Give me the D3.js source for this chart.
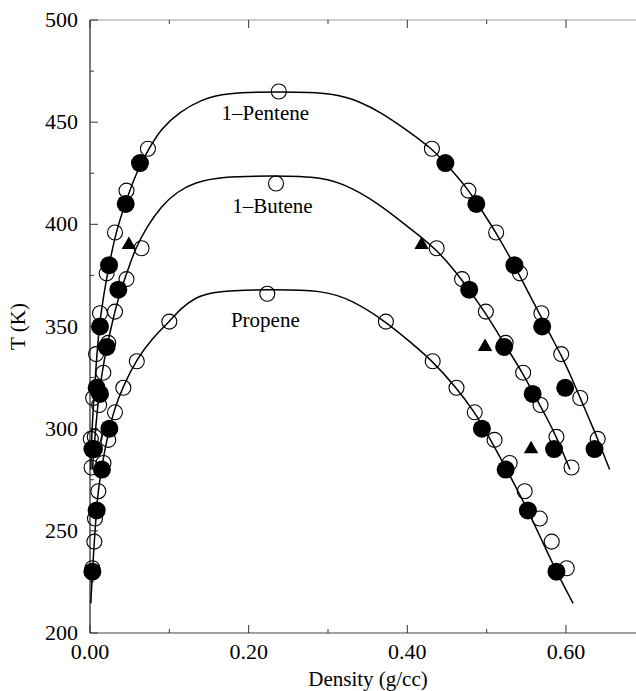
<!DOCTYPE html>
<html>
<head>
<meta charset="utf-8">
<script src="https://cdn.jsdelivr.net/npm/d3@7/dist/d3.min.js"></script>
<style>
  html, body { margin: 0; padding: 0; background: #fff; }
  svg { display: block; }
  text { font-family: "Liberation Serif", "Times New Roman", serif; fill: #000; }
</style>
</head>
<body>
<svg id="chart" width="636" height="691"></svg>
<script>
// ---- Axis ticks ----
const xTicksMajor = [0, 0.2, 0.4, 0.6];
const xTicksMinor = [0.1, 0.3, 0.5];
const xTickLabels = ["0.00", "0.20", "0.40", "0.60"];
const yTicksMajor = [200, 250, 300, 350, 400, 450, 500];
const yTicksMinor = [225, 275, 325, 375, 425, 475];
const yTickLabels = ["200", "250", "300", "350", "400", "450", "500"];

// ---- 1-Pentene ----
const pentFilledT      = [430, 410, 380, 350, 320, 290];
const pentFilledVapor  = [0.063, 0.045, 0.024, 0.0126, 0.0084, 0.003];
const pentFilledLiquid = [0.448, 0.487, 0.535, 0.570, 0.599, 0.636];
const pentOpenT        = [437, 416.5, 396, 376, 356.5, 336.5, 315, 295];
const pentOpenVapor    = [0.073, 0.046, 0.0315, 0.021, 0.0126, 0.0076, 0.004, 0.001];
const pentOpenLiquid   = [0.431, 0.477, 0.512, 0.542, 0.569, 0.594, 0.618, 0.640];
const pentCritical     = [0.238, 465];
const pentCurve = [[0.001,280],[0.002,295],[0.004,310],[0.0075,330],[0.0115,350],[0.017,365],
  [0.024,380],[0.0325,396],[0.045,411],[0.058,425],[0.074,437],[0.09,447],[0.113,455],[0.14,461],
  [0.17,464.3],[0.24,465],[0.31,464.3],[0.34,460],[0.366,455],[0.40,446],[0.431,437],[0.448,430],
  [0.477,417],[0.49,409],[0.512,396],[0.535,380],[0.552,367],[0.567,356],[0.58,346],[0.594,336],
  [0.607,325],[0.618,315],[0.63,304],[0.640,295],[0.655,280]];

// ---- 1-Butene ----
const buteFilledT      = [368, 340, 317, 290];
const buteFilledVapor  = [0.0357, 0.021, 0.0126, 0.005];
const buteFilledLiquid = [0.478, 0.522, 0.558, 0.585];
const buteOpenT        = [388.3, 373.2, 357.3, 342, 327.4, 311.6, 296, 281];
const buteOpenVapor    = [0.065, 0.046, 0.0315, 0.023, 0.0168, 0.0115, 0.006, 0.002];
const buteOpenLiquid   = [0.437, 0.469, 0.499, 0.524, 0.546, 0.568, 0.588, 0.607];
const buteCritical     = [0.2345, 420];
const buteTriangleDensity = [0.049, 0.418, 0.498, 0.556];
const buteTriangleT       = [390, 390, 340, 290];
const buteCurve = [[0.003,280],[0.005,290],[0.0075,302],[0.0105,314],[0.015,327],[0.021,340],
  [0.027,350],[0.033,360],[0.040,369],[0.048,378],[0.057,388],[0.072,399],[0.09,409],[0.11,416],
  [0.132,420.5],[0.164,423.3],[0.23,423.8],[0.294,423.3],[0.33,418],[0.366,409.5],[0.40,399],[0.437,388],
  [0.469,373],[0.50,356],[0.523,341],[0.546,327],[0.562,315],[0.575,306],[0.588,296],[0.605,280]];

// ---- Propene ----
const propFilledT      = [300, 280, 260, 230];
const propFilledVapor  = [0.0244, 0.015, 0.0084, 0.003];
const propFilledLiquid = [0.494, 0.524, 0.552, 0.588];
const propOpenT        = [352.4, 333, 320, 308, 294.5, 283.2, 269.4, 256, 244.7, 231.7];
const propOpenVapor    = [0.1, 0.059, 0.042, 0.0315, 0.023, 0.017, 0.0105, 0.0063, 0.0055, 0.003];
const propOpenLiquid   = [0.373, 0.432, 0.462, 0.485, 0.51, 0.529, 0.548, 0.567, 0.582, 0.601];
const propCritical     = [0.2235, 366];
const propCurve = [[0.001,214.5],[0.003,230],[0.0055,245],[0.008,260],[0.0105,270],[0.015,282],
  [0.022,296],[0.03,309],[0.042,321],[0.059,334],[0.078,344],[0.1,352.4],[0.115,359],[0.132,364],
  [0.155,367.3],[0.224,368.2],[0.294,367.8],[0.33,363],[0.373,352.4],[0.405,342],[0.432,333],
  [0.462,320],[0.485,308],[0.50,298],[0.524,281],[0.552,260],[0.57,245],[0.588,230],[0.609,214.5]];

// ---- Curve labels ----
const curveLabels = ["1\u2013Pentene", "1\u2013Butene", "Propene"];
const curveLabelDensity = [0.221, 0.230, 0.221];
const curveLabelT = [451.2, 405.5, 350];

// ---- Layout ----
const svg = d3.select("#chart");
const x = d3.scaleLinear().domain([0, 0.7]).range([90, 645.3]);
const y = d3.scaleLinear().domain([200, 500]).range([633, 20]);

// frame
const frame = svg.append("g").attr("fill", "none");
frame.append("line").attr("x1", x(0)).attr("x2", x(0.7)).attr("y1", y(500)).attr("y2", y(500))
  .attr("stroke", "#999").attr("stroke-width", 1);
frame.append("line").attr("x1", x(0)).attr("x2", x(0.7)).attr("y1", y(200)).attr("y2", y(200))
  .attr("stroke", "#444").attr("stroke-width", 1.2);
frame.append("line").attr("x1", x(0)).attr("x2", x(0)).attr("y1", y(200)).attr("y2", y(500))
  .attr("stroke", "#222").attr("stroke-width", 1.2);

// inward ticks
const tk = svg.append("g").attr("stroke", "#333").attr("stroke-width", 1);
xTicksMajor.forEach(v => {
  tk.append("line").attr("x1", x(v)).attr("x2", x(v)).attr("y1", y(200)).attr("y2", y(200) - 8);
  tk.append("line").attr("x1", x(v)).attr("x2", x(v)).attr("y1", y(500)).attr("y2", y(500) + 8);
});
xTicksMinor.forEach(v => {
  tk.append("line").attr("x1", x(v)).attr("x2", x(v)).attr("y1", y(200)).attr("y2", y(200) - 4);
  tk.append("line").attr("x1", x(v)).attr("x2", x(v)).attr("y1", y(500)).attr("y2", y(500) + 4);
});
yTicksMajor.forEach(v => {
  tk.append("line").attr("x1", x(0)).attr("x2", x(0) + 8).attr("y1", y(v)).attr("y2", y(v));
});
yTicksMinor.forEach(v => {
  tk.append("line").attr("x1", x(0)).attr("x2", x(0) + 4).attr("y1", y(v)).attr("y2", y(v));
});

// tick labels
svg.append("g").selectAll("text").data(xTicksMajor).join("text")
  .attr("x", d => x(d)).attr("y", y(200) + 26)
  .attr("text-anchor", "middle").attr("font-size", 22)
  .text((d, i) => xTickLabels[i]);
svg.append("g").selectAll("text").data(yTicksMajor).join("text")
  .attr("x", x(0) - 12).attr("y", d => y(d) + 7)
  .attr("text-anchor", "end").attr("font-size", 22)
  .text((d, i) => yTickLabels[i]);

// axis titles
svg.append("text").attr("x", 368).attr("y", 686).attr("text-anchor", "middle")
  .attr("font-size", 21).text("Density (g/cc)");
svg.append("text").attr("transform", "translate(25," + y(350) + ") rotate(-90)")
  .attr("text-anchor", "middle").attr("font-size", 21).text("T (K)");

// coexistence curves (smoothed B-spline through the sampled fit points)
const line = d3.line().x(d => x(d[0])).y(d => y(d[1])).curve(d3.curveBasis);
const curves = svg.append("g").attr("fill", "none").attr("stroke", "#000").attr("stroke-width", 1.5);
[pentCurve, buteCurve, propCurve].forEach(c => curves.append("path").attr("d", line(c)));

// helper: pair temperatures with vapor and liquid densities
function branches(T, vap, liq) {
  const pts = [];
  T.forEach((t, i) => { pts.push([vap[i], t]); pts.push([liq[i], t]); });
  return pts;
}

const openPts = [].concat(
  branches(pentOpenT, pentOpenVapor, pentOpenLiquid), [pentCritical],
  branches(buteOpenT, buteOpenVapor, buteOpenLiquid), [buteCritical],
  branches(propOpenT, propOpenVapor, propOpenLiquid), [propCritical]);
const filledPts = [].concat(
  branches(pentFilledT, pentFilledVapor, pentFilledLiquid),
  branches(buteFilledT, buteFilledVapor, buteFilledLiquid),
  branches(propFilledT, propFilledVapor, propFilledLiquid));
const triPts = buteTriangleT.map((t, i) => [buteTriangleDensity[i], t]);

svg.append("g").selectAll("circle").data(openPts).join("circle")
  .attr("cx", d => x(d[0])).attr("cy", d => y(d[1])).attr("r", 7.5)
  .attr("fill", "none").attr("stroke", "#000").attr("stroke-width", 1.1);

svg.append("g").selectAll("circle").data(filledPts).join("circle")
  .attr("cx", d => x(d[0])).attr("cy", d => y(d[1])).attr("r", 9)
  .attr("fill", "#000");

svg.append("g").selectAll("path").data(triPts).join("path")
  .attr("transform", d => "translate(" + x(d[0]) + "," + y(d[1]) + ")")
  .attr("d", d3.symbol(d3.symbolTriangle, 90)).attr("fill", "#000");

// curve labels
svg.append("g").selectAll("text").data(curveLabels).join("text")
  .attr("x", (d, i) => x(curveLabelDensity[i])).attr("y", (d, i) => y(curveLabelT[i]))
  .attr("text-anchor", "middle").attr("font-size", 21)
  .text(d => d);
</script>
</body>
</html>
